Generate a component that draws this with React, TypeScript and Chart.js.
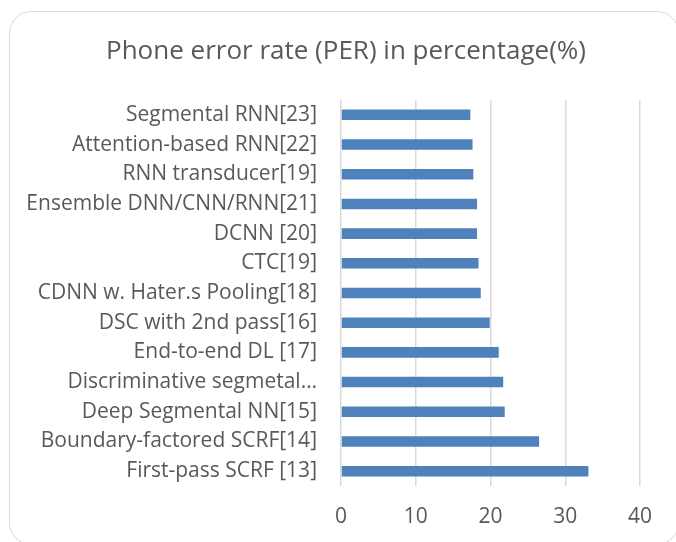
import React, { useEffect, useRef } from "react";
import { Chart, registerables } from "chart.js";

Chart.register(...registerables);

const categories = [
  "Segmental RNN[23]",
  "Attention-based RNN[22]",
  "RNN transducer[19]",
  "Ensemble DNN/CNN/RNN[21]",
  "DCNN [20]",
  "CTC[19]",
  "CDNN w. Hater.s Pooling[18]",
  "DSC with 2nd pass[16]",
  "End-to-end DL [17]",
  "Discriminative segmetal…",
  "Deep Segmental NN[15]",
  "Boundary-factored SCRF[14]",
  "First-pass SCRF [13]",
];

const perValues = [17.3, 17.6, 17.7, 18.2, 18.2, 18.4, 18.7, 19.9, 21.1, 21.7, 21.9, 26.5, 33.1];

const titleText = "Phone error rate (PER) in percentage(%)";

const FONT = "'Open Sans', sans-serif";
const TEXT = "#595959";

export default function App() {
  const ref = useRef<HTMLCanvasElement | null>(null);

  useEffect(() => {
    if (!ref.current) return;
    const chart = new Chart(ref.current, {
      type: "bar",
      data: {
        labels: categories,
        datasets: [
          {
            data: perValues,
            backgroundColor: "#4f81bd",
            borderWidth: 0,
            categoryPercentage: 1,
            barPercentage: 0.355,
          },
        ],
      },
      options: {
        indexAxis: "y",
        animation: false,
        responsive: false,
        layout: { padding: { left: 0, right: 36, top: 100, bottom: 0 } },
        plugins: {
          legend: { display: false },
          tooltip: { enabled: false },
          title: { display: false },
        },
        scales: {
          x: {
            min: 0,
            max: 40,
            ticks: {
              stepSize: 10,
              color: TEXT,
              font: { family: FONT, size: 21 },
              padding: 18,
            },
            grid: { color: "#d9d9d9", lineWidth: 1.5, drawTicks: false },
            border: { display: false },
            afterFit: (scale: any) => {
              scale.height = 56;
            },
          },
          y: {
            ticks: {
              color: TEXT,
              font: { family: FONT, size: 21 },
              padding: 24,
              autoSkip: false,
            },
            grid: { display: false, drawTicks: false },
            border: { display: false },
            afterFit: (scale: any) => {
              scale.width = 341;
            },
          },
        },
      },
    });
    return () => chart.destroy();
  }, []);

  return (
    <div style={{ position: "fixed", left: 0, top: 0, width: 676, height: 542, background: "#fff", overflow: "hidden" }}>
      <div
        style={{
          position: "absolute",
          left: 9,
          top: 11,
          width: 670,
          height: 534,
          border: "1.5px solid #d9d9d9",
          borderRadius: 22,
          boxSizing: "border-box",
        }}
      />
      <canvas ref={ref} width={676} height={542} style={{ position: "absolute", left: 0, top: 0 }} />
      <div
        style={{
          position: "absolute",
          left: 0,
          top: 34,
          width: 692,
          textAlign: "center",
          fontFamily: FONT,
          fontSize: 26,
          lineHeight: "31px",
          color: TEXT,
          whiteSpace: "nowrap",
        }}
      >
        {titleText}
      </div>
    </div>
  );
}
